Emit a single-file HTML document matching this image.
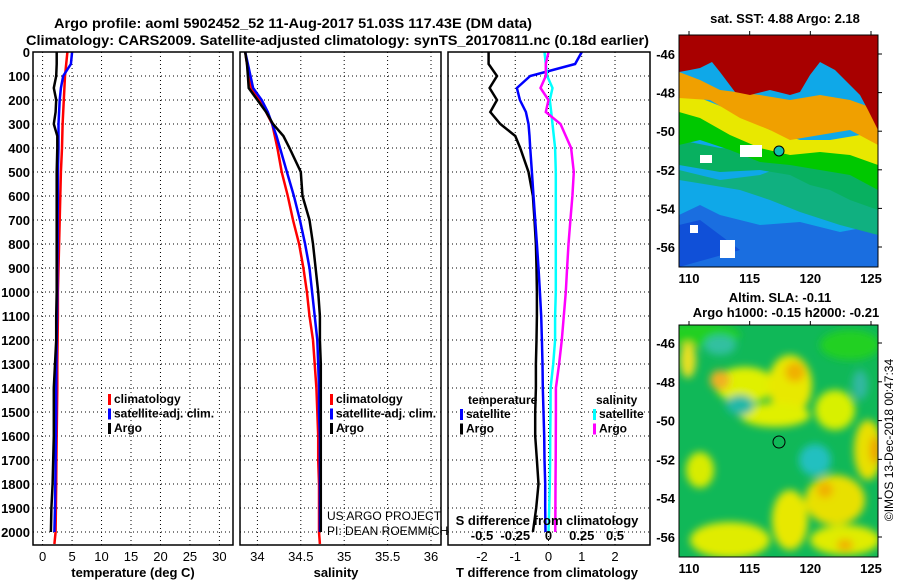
<!DOCTYPE html>
<html><head><meta charset="utf-8"><style>
html,body{margin:0;padding:0;background:#fff;width:900px;height:580px;overflow:hidden}
svg{display:block;font-family:"Liberation Sans",Arial,sans-serif}
.b{font-weight:bold}
</style></head><body>
<svg id="fig" width="900" height="580" viewBox="0 0 900 580">
<text class="b" x="54" y="28" font-size="14" textLength="478" lengthAdjust="spacingAndGlyphs">Argo profile: aoml 5902452_52 11-Aug-2017 51.03S 117.43E (DM data)</text>
<text class="b" x="26" y="45" font-size="14" textLength="623" lengthAdjust="spacingAndGlyphs">Climatology: CARS2009. Satellite-adjusted climatology: synTS_20170811.nc (0.18d earlier)</text>
<g id="panels"></g>
<g id="maps">
 <text class="b" x="785" y="23" font-size="13" text-anchor="middle">sat. SST: 4.88 Argo: 2.18</text>
 <clipPath id="c1"><rect x="679" y="35" width="199" height="232"/></clipPath>
 <g clip-path="url(#c1)">
  <rect x="679" y="35" width="199" height="232" fill="#0fa8e8"/>
  <polygon points="679,215 700,205 720,215 760,225 800,222 840,232 878,225 878,267 679,267" fill="#1a6ee0"/>
  <polygon points="679,225 700,220 720,235 740,250 679,267" fill="#1050d8"/>
  <polygon points="679,170 720,180 760,175 800,160 840,165 878,160 878,235 840,225 800,212 770,200 740,190 710,185 679,180" fill="#10b080"/>
  <polygon points="679,140 720,148 760,150 800,155 830,155 860,160 878,162 878,210 850,200 830,190 810,185 790,175 760,170 720,172 679,165" fill="#08b060"/>
  <polygon points="679,110 700,112 730,125 760,138 790,150 820,148 850,150 878,158 878,190 850,175 820,170 790,165 760,162 730,150 700,140 679,145" fill="#00c800"/>
  <polygon points="679,95 700,98 730,110 770,130 800,140 830,140 860,135 878,140 878,165 850,155 820,152 790,155 760,148 730,135 700,118 679,112" fill="#e8e800"/>
  <polygon points="679,72 700,80 720,90 760,95 790,100 820,95 850,100 878,110 878,145 850,130 820,135 790,140 770,130 740,118 710,100 679,98" fill="#f0a000"/>
  <polygon points="679,35 878,35 878,130 868,110 860,95 850,85 835,70 820,62 810,75 800,92 790,95 770,90 750,95 735,92 720,72 712,62 700,68 690,70 679,72" fill="#a80000"/>
  <rect x="700" y="155" width="12" height="8" fill="#fff"/><rect x="740" y="145" width="22" height="12" fill="#fff"/><rect x="720" y="240" width="15" height="18" fill="#fff"/><rect x="690" y="225" width="8" height="8" fill="#fff"/>
  <circle cx="779" cy="151" r="5" fill="#10c0b0" stroke="#000" stroke-width="1"/>
 </g>
 <rect x="679" y="35" width="199" height="232" fill="none" stroke="#000"/>
 <text class="b" x="780" y="302" font-size="13" text-anchor="middle">Altim. SLA: -0.11</text>
 <text class="b" x="786" y="317" font-size="13" text-anchor="middle">Argo h1000: -0.15 h2000: -0.21</text>
 <defs><filter id="bl" x="-50%" y="-50%" width="200%" height="200%"><feGaussianBlur stdDeviation="4"/></filter></defs>
 <clipPath id="c2"><rect x="679" y="325" width="199" height="232"/></clipPath>
 <g clip-path="url(#c2)">
  <rect x="679" y="325" width="199" height="232" fill="#10b858"/>
  <g filter="url(#bl)">
   <ellipse cx="700" cy="335" rx="40" ry="12" fill="#20d020"/>
   <ellipse cx="850" cy="345" rx="30" ry="15" fill="#20d020"/>
   <ellipse cx="688" cy="360" rx="8" ry="18" fill="#e8e020"/>
   <ellipse cx="745" cy="385" rx="30" ry="18" fill="#e0f000"/>
   <ellipse cx="790" cy="385" rx="22" ry="30" fill="#e8e800"/>
   <ellipse cx="795" cy="372" rx="10" ry="10" fill="#f0b000"/>
   <ellipse cx="720" cy="380" rx="10" ry="10" fill="#f0b020"/>
   <ellipse cx="775" cy="415" rx="35" ry="12" fill="#e0f000"/>
   <ellipse cx="835" cy="410" rx="20" ry="20" fill="#d8f000"/>
   <ellipse cx="868" cy="450" rx="14" ry="30" fill="#e8e000"/>
   <ellipse cx="875" cy="450" rx="5" ry="14" fill="#f0a000"/>
   <ellipse cx="700" cy="470" rx="14" ry="18" fill="#d8ec00"/>
   <ellipse cx="730" cy="540" rx="40" ry="18" fill="#e0ec00"/>
   <ellipse cx="790" cy="520" rx="18" ry="30" fill="#e8e800"/>
   <ellipse cx="835" cy="500" rx="30" ry="25" fill="#e8e000"/>
   <ellipse cx="845" cy="540" rx="35" ry="15" fill="#e0ec00"/>
   <ellipse cx="845" cy="545" rx="8" ry="6" fill="#f0b000"/>
   <ellipse cx="825" cy="490" rx="8" ry="8" fill="#f0b000"/>
   <ellipse cx="815" cy="460" rx="16" ry="16" fill="#20c0c0"/>
   <ellipse cx="740" cy="405" rx="14" ry="10" fill="#20b8a8"/>
   <ellipse cx="720" cy="345" rx="16" ry="10" fill="#30c0a0"/>
   <ellipse cx="860" cy="385" rx="8" ry="15" fill="#30b8a0"/>
  </g>
  <circle cx="779" cy="442" r="6" fill="none" stroke="#000" stroke-width="1"/>
 </g>
 <rect x="679" y="325" width="199" height="232" fill="none" stroke="#000"/>
 <text x="893" y="440" font-size="12" text-anchor="middle" transform="rotate(-90 893 440)">©IMOS 13-Dec-2018 00:47:34</text>
</g>
</svg>
<script>
const depths=[0,50,100,150,200,250,300,350,400,500,600,700,800,900,1000,1100,1200,1300,1400,1500,1600,1700,1800,1900,2000,2050];
const tempArgo=[2.4,2.4,2.3,1.9,2.3,2.2,1.9,2.5,2.5,2.4,2.4,2.4,2.4,2.4,2.4,2.3,2.3,2.1,1.9,1.9,1.9,1.8,1.7,1.5,1.4,null];
const tempClim=[4.2,4.0,3.8,3.7,3.6,3.5,3.4,3.35,3.3,3.1,3.0,2.9,2.8,2.7,2.6,2.6,2.55,2.5,2.5,2.45,2.4,2.35,2.3,2.25,2.2,2.0];
const tempSat=[5.0,4.8,3.5,3.1,2.9,2.8,2.7,2.7,2.7,2.6,2.6,2.55,2.55,2.5,2.5,2.45,2.4,2.35,2.3,2.3,2.25,2.2,2.15,2.1,2.0,null];
const salArgo=[33.86,33.88,33.89,33.9,34.0,34.1,34.18,34.3,34.37,34.5,34.52,34.6,34.64,34.67,34.7,34.72,34.72,34.73,34.73,34.73,34.73,34.73,34.73,34.73,34.73,null];
const salClim=[33.86,33.88,33.9,33.93,34.03,34.1,34.17,34.2,34.23,34.28,34.35,34.41,34.48,34.53,34.57,34.6,34.64,34.66,34.68,34.69,34.7,34.7,34.71,34.71,34.71,34.72];
const salSat=[33.86,33.89,33.92,33.95,34.05,34.12,34.17,34.22,34.26,34.34,34.42,34.49,34.55,34.6,34.63,34.66,34.69,34.7,34.71,34.71,34.72,34.72,34.72,34.72,34.72,null];
const tdArgo=[-1.8,-1.8,-1.55,-1.77,-1.55,-1.75,-1.45,-1.0,-0.85,-0.6,-0.47,-0.42,-0.38,-0.36,-0.35,-0.35,-0.36,-0.38,-0.38,-0.4,-0.4,-0.35,-0.3,-0.37,-0.47,null];
const tdSat=[1.0,0.8,-0.55,-0.95,-0.86,-0.68,-0.6,-0.57,-0.55,-0.5,-0.45,-0.4,-0.35,-0.3,-0.26,-0.22,-0.2,-0.18,-0.17,-0.15,-0.13,-0.12,-0.1,-0.1,-0.09,null];
const sdSat=[-0.03,-0.02,-0.01,0.03,0.01,0.02,0.03,0.04,0.05,0.055,0.055,0.055,0.055,0.055,0.055,0.05,0.05,0.035,0.016,0.015,0.013,0.012,0.01,0.005,0.0,null];
const sdArgo=[0.0,-0.02,-0.02,-0.06,0.0,-0.02,0.09,0.13,0.17,0.19,0.18,0.165,0.15,0.14,0.13,0.115,0.1,0.08,0.056,0.056,0.055,0.054,0.053,0.052,0.051,null];
const depthTicks=[0,100,200,300,400,500,600,700,800,900,1000,1100,1200,1300,1400,1500,1600,1700,1800,1900,2000];
const tTicks=[0,5,10,15,20,25,30];
const sTicks=[34,34.5,35,35.5,36];
const sTickLabels=["34","34.5","35","35.5","36"];
const tdTicks=[-2,-1,0,1,2];
const sdTicks=[-0.5,-0.25,0,0.25,0.5];
const sdTickLabels=["-0.5","-0.25","0","0.25","0.5"];

const NS='http://www.w3.org/2000/svg';
const root=document.getElementById('panels');
const yD=d=>52+d*0.24;
function mk(tag,attrs,parent){const e=document.createElementNS(NS,tag);for(const k in attrs)e.setAttribute(k,attrs[k]);(parent||root).appendChild(e);return e;}
const TOP=52,BOT=545;
function lin(d0,d1,p0,p1){return v=>p0+(v-d0)*(p1-p0)/(d1-d0);}
const xT=lin(0,30,42.6,219.4), xS=lin(34,36,257.4,431), xTD=lin(-2,2,482,615), xSD=lin(-0.5,0.5,482,615);

function frame(x0,x1,name){
  const g=mk('g',{});
  
  
  return g;
}
function grid(g,x0,x1,xs){
  depthTicks.forEach(d=>{const l=mk('line',{x1:x0,x2:x1,y1:yD(d),y2:yD(d),stroke:'#000','stroke-width':1,'stroke-dasharray':'1,3'},g);});
  xs.forEach(x=>{const l=mk('line',{x1:x,x2:x,y1:TOP,y2:BOT,stroke:'#000','stroke-width':1,'stroke-dasharray':'1,3'},g);});
}
function border(g,x0,x1){const r=mk('rect',{x:x0,y:TOP,width:x1-x0,height:BOT-TOP,fill:'none',stroke:'#000','stroke-width':1.5},g);}
function series(g,vals,xf,color,name){
  let p='';depths.forEach((d,i)=>{if(vals[i]==null)return;p+=(p?'L':'M')+xf(vals[i]).toFixed(1)+','+yD(d).toFixed(1);});
  const e=mk('path',{d:p,fill:'none',stroke:color,'stroke-width':2.5,'stroke-linejoin':'miter'},g);
  
  
}
function txt(g,x,y,s,size,anchor,bold,name){const t=mk('text',{x:x,y:y,'font-size':size,'text-anchor':anchor||'start','font-weight':bold?'bold':'normal'},g);t.textContent=s;return t;}
function legend(g,x,y,items){
  items.forEach((it,i)=>{const r=mk('rect',{x:x,y:y+i*14.5-9,width:3,height:11,fill:it[1]},g);txt(g,x+6,y+i*14.5,it[0],12,'start',true,'legend-entry');});
}
// panel 1
const g1=frame(33,233,'temperature-panel');
grid(g1,33,233,tTicks.map(xT));
series(g1,tempClim,xT,'#f00','temp-climatology-line');
series(g1,tempSat,xT,'#00f','temp-satellite-line');
series(g1,tempArgo,xT,'#000','temp-argo-line');
border(g1,33,233);
depthTicks.forEach(d=>txt(g1,30,yD(d)+5,String(d),13,'end',true,'depth-tick-label'));
tTicks.forEach(t=>txt(g1,xT(t),561,String(t),13,'middle',false,'temp-tick-label'));
txt(g1,133,577,'temperature (deg C)',13,'middle',true,'temp-axis-title');
legend(g1,108,403,[['climatology','#f00'],['satellite-adj. clim.','#00f'],['Argo','#000']]);
// panel 2
const g2=frame(240,441,'salinity-panel');
grid(g2,240,441,sTicks.map(xS));
series(g2,salClim,xS,'#f00','sal-climatology-line');
series(g2,salSat,xS,'#00f','sal-satellite-line');
series(g2,salArgo,xS,'#000','sal-argo-line');
border(g2,240,441);
sTicks.forEach((s,i)=>txt(g2,xS(s),561,sTickLabels[i],13,'middle',false,'sal-tick-label'));
txt(g2,336,577,'salinity',13,'middle',true,'sal-axis-title');
legend(g2,330,403,[['climatology','#f00'],['satellite-adj. clim.','#00f'],['Argo','#000']]);
txt(g2,327,520,'US ARGO PROJECT',12,'start',false,'credit-project');
txt(g2,327,535,'PI: DEAN ROEMMICH',12,'start',false,'credit-pi');
// panel 3
const g3=frame(448,650,'difference-panel');
grid(g3,448,650,tdTicks.map(xTD));
series(g3,tdArgo,xTD,'#000','tdiff-argo-line');
series(g3,tdSat,xTD,'#00f','tdiff-satellite-line');
series(g3,sdSat,xSD,'#0ff','sdiff-satellite-line');
series(g3,sdArgo,xSD,'#f0f','sdiff-argo-line');
border(g3,448,650);
tdTicks.forEach(t=>txt(g3,xTD(t),561,String(t),13,'middle',false,'tdiff-tick-label'));
sdTicks.forEach((s,i)=>txt(g3,xSD(s),540,sdTickLabels[i],13,'middle',true,'sdiff-tick-label'));
txt(g3,547,525,'S difference from climatology',13,'middle',true,'sdiff-axis-title');
txt(g3,547,577,'T difference from climatology',13,'middle',true,'tdiff-axis-title');
txt(g3,468,404,'temperature',12,'start',true,'legend-title-temperature');
txt(g3,596,404,'salinity',12,'start',true,'legend-title-salinity');
legend(g3,460,418,[['satellite','#00f'],['Argo','#000']]);
legend(g3,593,418,[['satellite','#0ff'],['Argo','#f0f']]);
// map axes
const mapLon=[110,115,120,125], mapLat=[-46,-48,-50,-52,-54,-56];
const mg=document.getElementById('maps');
function mapAxes(y0,y1,latY0,latY1){
  const lx=lin(110,125,689,871), ly=lin(-46,-56,latY0,latY1);
  mapLon.forEach(l=>{txt(mg,lx(l),y1+16,String(l),13,'middle',true,'map-lon-label');const t=mk('line',{x1:lx(l),x2:lx(l),y1:y0,y2:y0-4,stroke:'#000'},mg);});
  mapLat.forEach(l=>{txt(mg,675,ly(l)+5,String(l),13,'end',true,'map-lat-label');const t=mk('line',{x1:878,x2:882,y1:ly(l),y2:ly(l),stroke:'#000'},mg);});
}
mapAxes(35,267,54,247);
mapAxes(325,557,343,537);
</script>
</body></html>
